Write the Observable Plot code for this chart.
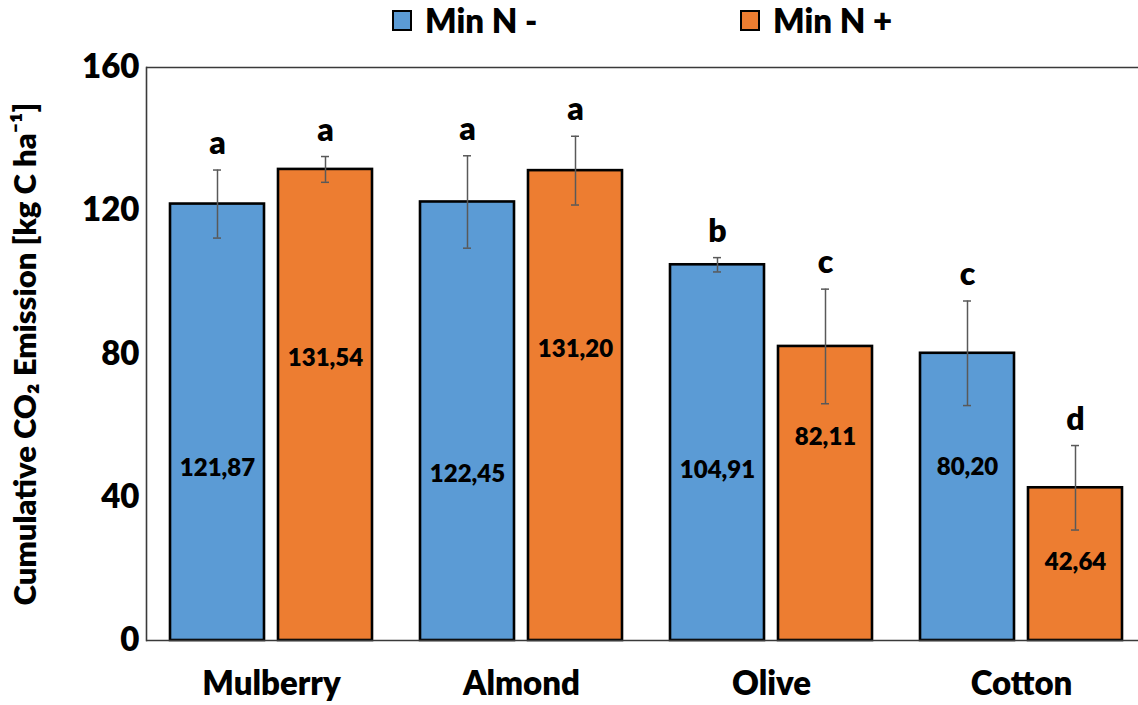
<!DOCTYPE html>
<html>
<head>
<meta charset="utf-8">
<script src="https://cdn.jsdelivr.net/npm/d3@7"></script>
<script src="https://cdn.jsdelivr.net/npm/@observablehq/plot@0.6"></script>
<style>
  body { margin: 0; background: #fff; font-family: Lato, "Open Sans", sans-serif; }
  #legend { position: relative; width: 1138px; height: 46px; }
  .item { position: absolute; top: -3px; height: 46px; display: flex; align-items: center; font-weight: 800; font-size: 33px; color: #000; }
  .sw { width: 16px; height: 17px; border: 2.5px solid #000; margin-right: 13px; }
</style>
</head>
<body>
<div id="legend"></div>
<div id="chart"></div>
<script>
// ---- data ----
const crops = ["Mulberry", "Almond", "Olive", "Cotton"];
const treatments = ["Min N -", "Min N +"];
const valuesMinus = [121.87, 122.45, 104.91, 80.20];
const valuesPlus = [131.54, 131.20, 82.11, 42.64];
const errMinus = [9.5, 12.9, 2.0, 14.6];
const errPlus = [3.6, 9.6, 16.0, 11.8];
const lettersMinus = ["a", "a", "b", "c"];
const lettersPlus = ["a", "a", "c", "d"];
const yTicks = [0, 40, 80, 120, 160];
const colors = ["#5B9BD5", "#ED7D31"];
// where the data labels sit inside each bar (y units)
const labelAtMinus = [48.0, 46.3, 47.5, 48.3];
const labelAtPlus = [78.7, 81.3, 56.7, 21.8];

const rows = [];
crops.forEach((c, i) => {
  rows.push({crop: c, treatment: treatments[0], value: valuesMinus[i], err: errMinus[i], letter: lettersMinus[i], labelAt: labelAtMinus[i]});
  rows.push({crop: c, treatment: treatments[1], value: valuesPlus[i], err: errPlus[i], letter: lettersPlus[i], labelAt: labelAtPlus[i]});
});
const fmt = v => v.toFixed(2).replace(".", ",");
const lo = d => d.value - d.err;
const hi = d => d.value + d.err;

// ---- legend ----
const legend = document.getElementById("legend");
const legendLeft = [392, 740];
treatments.forEach((t, i) => {
  const it = document.createElement("div");
  it.className = "item";
  it.style.left = legendLeft[i] + "px";
  const sw = document.createElement("span");
  sw.className = "sw";
  sw.style.background = colors[i];
  it.appendChild(sw);
  it.appendChild(document.createTextNode(t));
  legend.appendChild(it);
});

// ---- chart ----
const errStroke = "#595959";
const chart = Plot.plot({
  width: 1138,
  height: 659,
  marginTop: 21,
  marginBottom: 65,
  marginLeft: 145,
  marginRight: 0,
  style: {fontFamily: "Lato, 'Open Sans', sans-serif", fontSize: "30px", fontWeight: "800", color: "#000", background: "#fff", overflow: "hidden"},
  fx: {domain: crops, range: [144.25, 1146.75], padding: 0, label: null},
  x: {domain: treatments, paddingInner: 0.129, paddingOuter: 0.219, axis: null},
  y: {domain: [0, 160], axis: null},
  color: {domain: treatments, range: colors},
  marks: [
    Plot.barY(rows, {fx: "crop", x: "treatment", y: "value", fill: "treatment", stroke: "#000", strokeWidth: 2.6}),
    Plot.ruleY([0, 160], {stroke: "#3a3a3a", strokeWidth: 1.6}),
    Plot.frame({anchor: "left", facetAnchor: "left", stroke: "#3a3a3a", strokeWidth: 1.6}),
    Plot.ruleX(rows, {fx: "crop", x: "treatment", y1: lo, y2: hi, stroke: errStroke, strokeWidth: 1.5}),
    Plot.tickY(rows, {fx: "crop", x: "treatment", y: lo, insetLeft: 43, insetRight: 43, stroke: errStroke, strokeWidth: 1.5}),
    Plot.tickY(rows, {fx: "crop", x: "treatment", y: hi, insetLeft: 43, insetRight: 43, stroke: errStroke, strokeWidth: 1.5}),
    Plot.text(rows, {fx: "crop", x: "treatment", y: "labelAt", text: d => fmt(d.value), fontSize: 24, fontWeight: 800, fill: "#000"}),
    Plot.text(rows, {fx: "crop", x: "treatment", y: hi, text: "letter", lineAnchor: "bottom", dy: -16, fontSize: 32, fontWeight: 800, fill: "#000"}),
    Plot.axisY(yTicks, {anchor: "left", tickSize: 0, tickPadding: 7, fontSize: 33, fontWeight: 800,
      label: "Cumulative CO\u2082 Emission [kg C ha\u207B\u00B9]", labelArrow: "none", labelAnchor: "center", labelOffset: 133}),
    Plot.axisFx({anchor: "bottom", tickSize: 0, tickPadding: 31, fontSize: 33, fontWeight: 800, label: null})
  ]
});
// axis-title font
chart.querySelectorAll("g[aria-label='y-axis label']").forEach(g => {
  g.setAttribute("font-size", 31);
  g.setAttribute("font-weight", 800);
  g.querySelectorAll("text").forEach(t => { t.setAttribute("font-size", 31); t.setAttribute("font-weight", 800); });
});
document.getElementById("chart").appendChild(chart);
</script>
</body>
</html>
